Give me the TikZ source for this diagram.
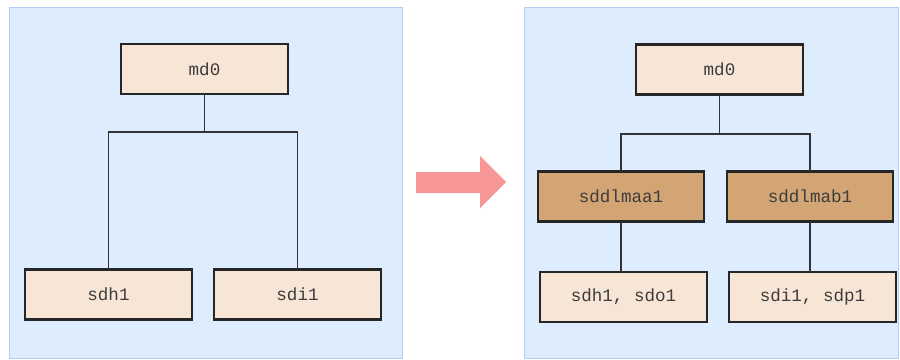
\documentclass[tikz,border=0pt]{standalone}
\usepackage{fontspec}
\setmonofont{Liberation Mono}
\definecolor{panelfill}{HTML}{DDEDFD}
\definecolor{panelline}{HTML}{AFD0F2}
\definecolor{boxfill}{HTML}{F7E6D5}
\definecolor{dmfill}{HTML}{D4A574}
\definecolor{arrowfill}{HTML}{F79696}
\definecolor{textgray}{HTML}{3C3C3C}
\begin{document}
\begin{tikzpicture}[x=0.03cm, y=-0.03cm, font=\ttfamily\fontsize{15}{17}\selectfont,
    every node/.style={minimum width=5cm, minimum height=1.5cm, outer sep=0pt, text=textgray},
    devbox/.style={draw=black!85, line width=1.8pt, fill=boxfill},
    dmbox/.style={draw=black!85, line width=1.8pt, fill=dmfill},
    link/.style={draw=black!80, line width=1.5pt},
    line join=miter]
    \useasboundingbox (0,0) rectangle (900,359);
    % panels
    \draw[panelline, fill=panelfill, line width=0.8pt] (9.5,7) rectangle (402,358);
    \draw[panelline, fill=panelfill, line width=0.8pt] (524,7) rectangle (898,358);
        % before
        \node[devbox] (lmd) at (204.5, 69) {md0};
        \node[devbox] (lsdh) at (108.5, 294.5) {sdh1};
        \node[devbox] (lsdi) at (297.5, 294.5) {sdi1};
        \coordinate (ljoin) at (204.5, 132);
        \draw[link] (lmd.south) -- (ljoin);
        \draw[link] (lsdh.north) |- (ljoin) -| (lsdi.north);
        % after
        \node[devbox] (rmd) at (719.5, 69.5) {md0};
        \node[dmbox] (rmaa) at (621, 196.5) {sddlmaa1};
        \node[dmbox] (rmab) at (810, 196.5) {sddlmab1};
        \node[devbox] (rsdh) at (623.5, 297) {sdh1, sdo1};
        \node[devbox] (rsdi) at (812.5, 297) {sdi1, sdp1};
        \coordinate (rjoin) at (719.5, 134);
        \draw[link] (rmd.south) -- (rjoin);
        \draw[link] (rmaa.north) |- (rjoin) -| (rmab.north);
        \draw[link] (rmaa.south) -- (rmaa.south |- rsdh.north);
        \draw[link] (rmab.south) -- (rmab.south |- rsdi.north);
    % arrow
    \fill[arrowfill] (416,172) -- (480,172) -- (480,156) -- (506,182) -- (480,208) -- (480,193) -- (416,193) -- cycle;
\end{tikzpicture}
\end{document}
